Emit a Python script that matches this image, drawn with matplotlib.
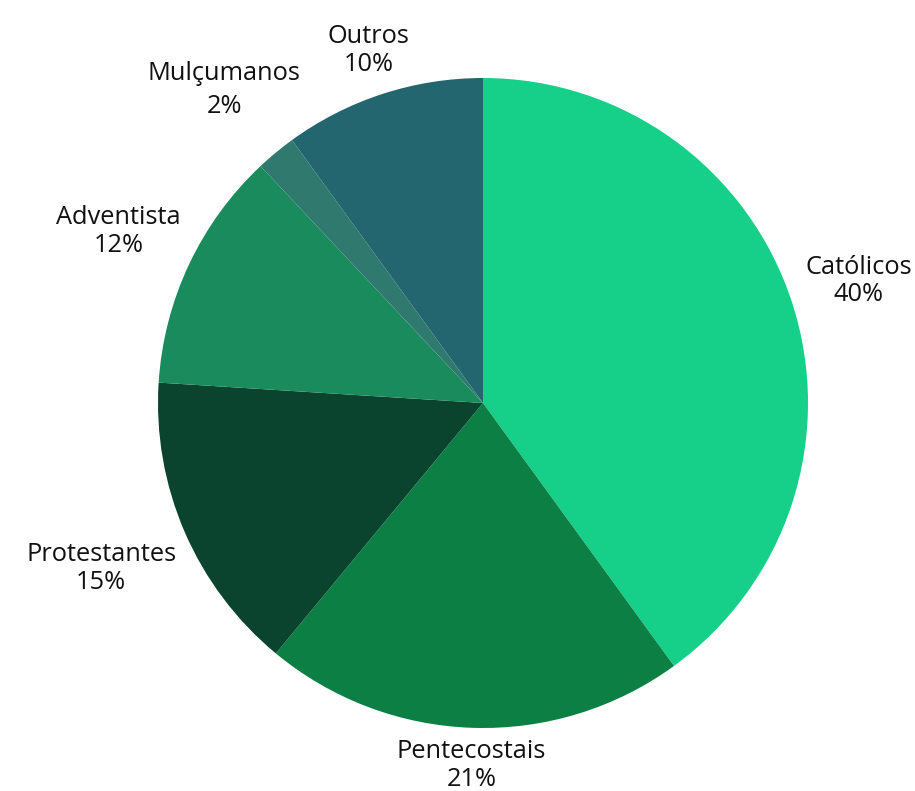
import matplotlib.pyplot as plt
import numpy as np

# Data
labels = ['Católicos', 'Pentecostais', 'Protestantes', 'Adventista', 'Mulçumanos', 'Outros']
values = [40, 21, 15, 12, 2, 10]
colors = ['#16CF89', '#0C7F44', '#0A432E', '#1A8B5D', '#30796E', '#23666F']
label_dist = [1.215, 1.115, 1.28, 1.24, 1.25, 1.14]
line_gap = [1.15, 1.15, 1.15, 1.15, 1.45, 1.15]

W, H = 915, 791
CX, CY, R = 483, 403, 325

fig = plt.figure(figsize=(W / 100, H / 100), dpi=100)
ax = fig.add_axes([0, 0, 1, 1])

wedges, _ = ax.pie(values, colors=colors, startangle=90, counterclock=False,
                   radius=R, wedgeprops=dict(linewidth=0))

# pie() resets the limits, so set them afterwards
ax.set_xlim(-CX, W - CX)
ax.set_ylim(-(H - CY), CY)
ax.set_aspect('equal')
ax.axis('off')

for w, lab, v, d, ls in zip(wedges, labels, values, label_dist, line_gap):
    ang = np.radians((w.theta1 + w.theta2) / 2)
    x, y = R * d * np.cos(ang), R * d * np.sin(ang)
    ax.text(x, y, f'{lab}\n{v}%', ha='center', va='center', fontsize=18.3,
            family='Open Sans', color='#111111', linespacing=ls)

fig.savefig('out.png', dpi=100)
